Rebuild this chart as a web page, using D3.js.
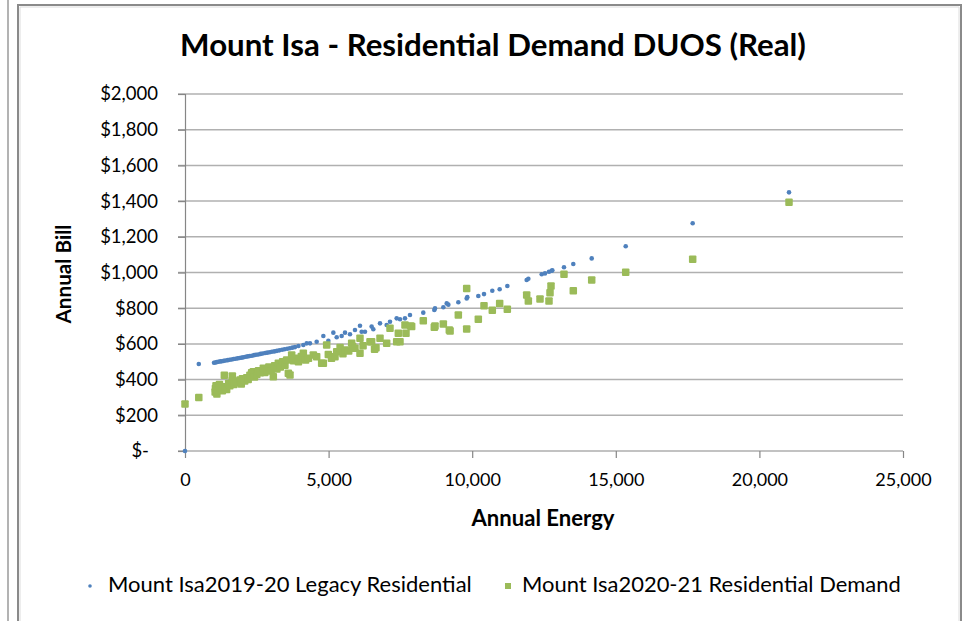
<!DOCTYPE html>
<html>
<head>
<meta charset="utf-8">
<script src="https://cdn.jsdelivr.net/npm/d3@7"></script>
<style>
  html, body { margin: 0; padding: 0; background: #fff; }
  svg { display: block; font-family: Lato, "Open Sans", sans-serif; }
</style>
</head>
<body>
<svg id="chart" width="967" height="621"></svg>
<script>
// ---- data ----
const chartTitle = "Mount Isa - Residential Demand DUOS (Real)";
const xTitle = "Annual Energy";
const yTitle = "Annual Bill";
const seriesNames = ["Mount Isa2019-20 Legacy Residential", "Mount Isa2020-21 Residential Demand"];

const xTicks = [0, 5000, 10000, 15000, 20000, 25000];
const yTicks = [0, 200, 400, 600, 800, 1000, 1200, 1400, 1600, 1800, 2000];

// Legacy tariff: annual energy (kWh) and annual bill ($)
const legacyEnergy = [0, 480, 1010, 1055, 1110, 1165, 1230, 1285, 1350, 1415, 1490, 1555, 1625, 1690,
  1760, 1835, 1900, 1975, 2040, 2115, 2185, 2255, 2330, 2405, 2475, 2550, 2630, 2705, 2790, 2865,
  2950, 3025, 3110, 3200, 3285, 3380, 3465, 3560, 3650, 3740, 3830, 3950, 4120, 4237, 4352, 4585,
  4817, 4991, 5165, 5282, 5455, 5571, 5745, 5919, 6093, 6151, 6267, 6499, 6557, 6790, 7022, 7138,
  7370, 7486, 7660, 7834, 8297, 8681, 8705, 8995, 9112, 9170, 9517, 9808, 9830, 10213, 10411,
  10700, 10956, 11223, 11897, 11955, 12420, 12535, 12674, 12767, 12790, 13196, 13520, 14161,
  15345, 17677, 21031];
const legacyBill = [0, 487, 494, 496, 498, 500, 502, 503, 505, 507, 509, 511, 513, 515,
  517, 519, 521, 523, 525, 528, 530, 532, 534, 537, 539, 541, 544, 546, 549, 551,
  553, 556, 558, 561, 564, 567, 570, 573, 576, 579, 582, 588, 594, 603, 603, 612,
  644, 618, 663, 637, 644, 663, 654, 678, 702, 668, 668, 697, 682, 715, 706, 724,
  743, 738, 743, 762, 775, 790, 799, 805, 827, 820, 833, 855, 862, 868, 879,
  898, 906, 924, 958, 965, 990, 995, 1004, 1010, 1012, 1029, 1048, 1079,
  1147, 1276, 1449];

// Demand tariff: annual energy (kWh) and annual bill ($)
const demandEnergy = [0, 480, 1050, 1060, 1080, 1110, 1150, 1200, 1230, 1300, 1370, 1390, 1450, 1520,
  1560, 1648, 1650, 1700, 1780, 1850, 1915, 1960, 2000, 2080, 2150, 2200, 2260, 2320, 2379, 2420,
  2500, 2560, 2620, 2727, 2780, 2850, 2920, 3000, 3075, 3120, 3200, 3250, 3320, 3400, 3480, 3540,
  3598, 3656, 3714, 3780, 3850, 3950, 4050, 4120, 4200, 4300, 4468, 4585, 4759, 4817, 4933, 4990,
  5100, 5223, 5282, 5400, 5500, 5571, 5700, 5803, 5838, 5919, 6093, 6093, 6200, 6441, 6499, 6600,
  6650, 6790, 7022, 7138, 7370, 7428, 7486, 7660, 7695, 7857, 7892, 8297, 8681, 8705, 8995, 9203,
  9230, 9517, 9808, 9808, 10213, 10411, 10700, 10956, 11223, 11897, 11955, 12361, 12674, 12709,
  12744, 13196, 13520, 14161, 15345, 17677, 21031];
const demandBill = [263, 300, 330, 350, 365, 320, 340, 372, 355, 338, 424, 360, 345, 378,
  365, 420, 395, 372, 390, 382, 398, 375, 405, 392, 410, 400, 425, 438, 444, 415,
  428, 450, 438, 463, 440, 455, 470, 448, 416, 478, 460, 491, 470, 500, 480, 510,
  435, 426, 538, 505, 520, 500, 530, 547, 510, 520, 538, 528, 491, 491, 594, 540,
  520, 528, 556, 580, 545, 566, 560, 603, 585, 575, 631, 547, 590, 612, 612, 570,
  579, 631, 603, 687, 612, 659, 612, 706, 659, 700, 697, 730, 693, 700, 711, 678,
  672, 762, 911, 683, 738, 814, 788, 827, 794, 874, 840, 852, 840, 887,
  924, 990, 898, 958, 1001, 1074, 1393];

const legacyPoints = legacyEnergy.map((e, i) => ({ e, b: legacyBill[i] }));
const demandPoints = demandEnergy.map((e, i) => ({ e, b: demandBill[i] }));

// ---- layout ----
const svg = d3.select("#chart");
const W = 967, H = 621;
const plot = { left: 185, right: 903, top: 94, bottom: 451 };
const colors = { legacy: "#4f81bd", demand: "#9bbb59" };

svg.append("rect").attr("width", W).attr("height", H).attr("fill", "#fff");

// outer frames
svg.append("line").attr("x1", 8).attr("x2", 8).attr("y1", 0).attr("y2", H)
  .attr("stroke", "#9a9a9a").attr("stroke-width", 1.5);
svg.append("path")
  .attr("d", `M18,${H} V5 H961 V${H}`)
  .attr("fill", "none").attr("stroke", "#8a8a8a").attr("stroke-width", 2);
svg.append("path")
  .attr("d", `M20,${H} V7 H959 V${H}`)
  .attr("fill", "none").attr("stroke", "#dcdcdc").attr("stroke-width", 1);

const x = d3.scaleLinear().domain([0, 25000]).range([plot.left, plot.right]);
const y = d3.scaleLinear().domain([0, 2000]).range([plot.bottom, plot.top]);

// horizontal gridlines (extend to the left as tick marks)
svg.append("g").selectAll("line").data(yTicks.filter(d => d > 0)).join("line")
  .attr("x1", plot.left - 7).attr("x2", plot.right)
  .attr("y1", d => y(d)).attr("y2", d => y(d))
  .attr("stroke", "#b0b0b0").attr("stroke-width", 1.5);

// y axis
const yAxis = svg.append("g").attr("transform", `translate(${plot.left},0)`)
  .call(d3.axisLeft(y).tickValues(yTicks).tickSize(7).tickPadding(20)
    .tickFormat(d => d === 0 ? "$-" : "$" + d3.format(",")(d)));
yAxis.select(".domain").attr("stroke", "#868686").attr("stroke-width", 1.2);
yAxis.selectAll(".tick line").attr("stroke", "#868686").attr("stroke-width", 1.2);
yAxis.selectAll(".tick text").attr("font-size", 18.5).attr("fill", "#000")
  .attr("font-family", "Lato, sans-serif")
  .attr("dx", d => d === 0 ? -9 : 0);

// x axis
const xAxis = svg.append("g").attr("transform", `translate(0,${plot.bottom})`)
  .call(d3.axisBottom(x).tickValues(xTicks).tickSize(7).tickPadding(15)
    .tickFormat(d3.format(",")));
xAxis.select(".domain").attr("stroke", "#868686").attr("stroke-width", 1.2)
  .attr("d", `M${plot.left - 7},0H${plot.right}`);
xAxis.selectAll(".tick line").attr("stroke", "#868686").attr("stroke-width", 1.2);
xAxis.selectAll(".tick text").attr("font-size", 18).attr("fill", "#000")
  .attr("font-family", "Lato, sans-serif");

// series: legacy as small dots, demand as squares drawn on top
svg.append("g").selectAll("circle").data(legacyPoints).join("circle")
  .attr("cx", d => x(d.e)).attr("cy", d => y(d.b)).attr("r", 2.3)
  .attr("fill", colors.legacy);

const sq = 7.5;
svg.append("g").selectAll("rect").data(demandPoints).join("rect")
  .attr("x", d => x(d.e) - sq / 2).attr("y", d => y(d.b) - sq / 2)
  .attr("width", sq).attr("height", sq).attr("rx", 1)
  .attr("fill", colors.demand);

// text helper that sizes a label to a given width
function fitText(sel, width) {
  const w = sel.node().getComputedTextLength();
  const fs = parseFloat(sel.attr("font-size"));
  sel.attr("font-size", (fs * width / w).toFixed(2));
  return sel;
}

// title
fitText(svg.append("text").attr("x", 493).attr("y", 56).attr("text-anchor", "middle")
  .attr("font-size", 25).attr("font-weight", "bold").attr("fill", "#000")
  .text(chartTitle), 626);

// axis titles
fitText(svg.append("text").attr("x", 543).attr("y", 526).attr("text-anchor", "middle")
  .attr("font-size", 18).attr("font-weight", "bold").attr("fill", "#000")
  .text(xTitle), 143);
fitText(svg.append("text").attr("transform", "translate(71,274) rotate(-90)")
  .attr("text-anchor", "middle")
  .attr("font-size", 18).attr("font-weight", "bold").attr("fill", "#000")
  .text(yTitle), 99);

// legend
const legendY = 586;
const lg = svg.append("g");
lg.append("circle").attr("cx", 90).attr("cy", legendY).attr("r", 1.8)
  .attr("fill", colors.legacy);
fitText(lg.append("text").attr("x", 108).attr("y", legendY + 6).attr("font-size", 18)
  .attr("fill", "#000").text(seriesNames[0]), 364);
lg.append("rect").attr("x", 508 - 3).attr("y", legendY - 3).attr("width", 6).attr("height", 6)
  .attr("fill", colors.demand);
fitText(lg.append("text").attr("x", 522).attr("y", legendY + 6).attr("font-size", 18)
  .attr("fill", "#000").text(seriesNames[1]), 379);
</script>
</body>
</html>
